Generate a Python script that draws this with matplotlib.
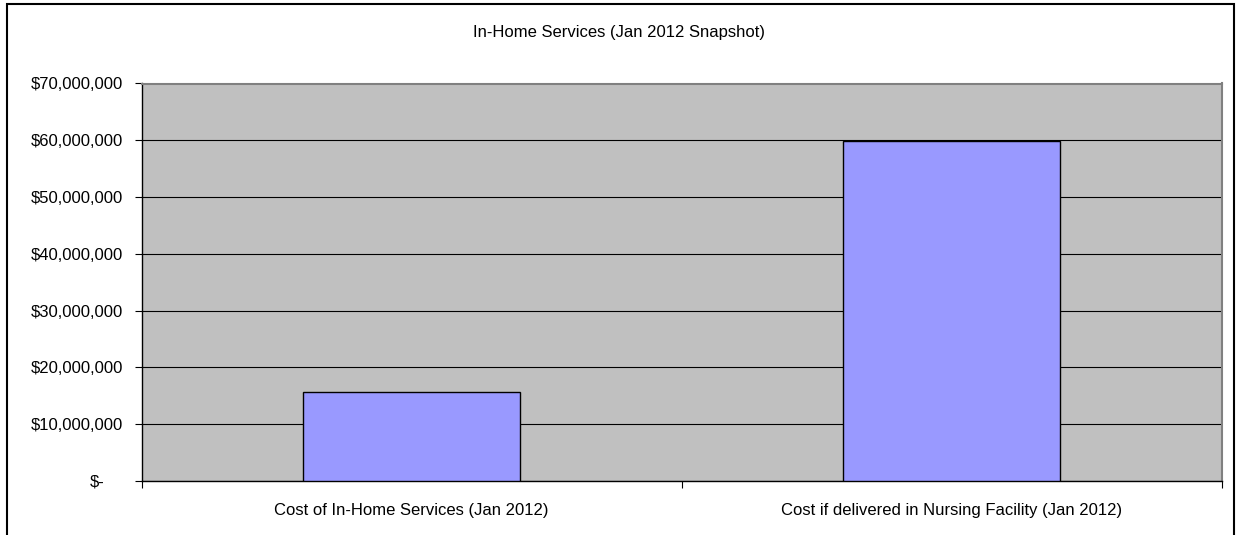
import matplotlib
matplotlib.use("Agg")
import matplotlib.pyplot as plt
from matplotlib.patches import Rectangle
from matplotlib.transforms import ScaledTranslation
from matplotlib.ticker import FuncFormatter, FixedLocator

plt.rcParams['font.family'] = ['Liberation Sans', 'DejaVu Sans']

title = "In-Home Services (Jan 2012 Snapshot)"
categories = ["Cost of In-Home Services (Jan 2012)",
              "Cost if delivered in Nursing Facility (Jan 2012)"]
costs = [15_700_000, 59_800_000]
y_ticks = [0, 10_000_000, 20_000_000, 30_000_000, 40_000_000,
           50_000_000, 60_000_000, 70_000_000]

FS = 12

fig = plt.figure(figsize=(12.38, 5.35), dpi=100)
fig.patch.set_facecolor("white")

# outer chart border
fig.add_artist(Rectangle((7 / 1238, -0.01), (1234 - 7) / 1238, 1 - 4 / 535 + 0.01,
                         transform=fig.transFigure, fill=False,
                         edgecolor="black", linewidth=1.5))

ax = fig.add_axes([141.7 / 1238, 1 - 481 / 535,
                   (1221.5 - 141.7) / 1238, (481 - 83.5) / 535])
ax.set_facecolor("#C0C0C0")

x = list(range(len(categories)))
ax.bar(x, costs, width=0.402, color="#9999FF", edgecolor="black",
       linewidth=1.0, zorder=3)

ax.set_xlim(-0.5, len(categories) - 0.5)
ax.set_ylim(0, 70_000_000)

ax.yaxis.set_major_locator(FixedLocator(y_ticks))
ax.yaxis.set_major_formatter(
    FuncFormatter(lambda v, p: "$-" if v == 0 else f"${v:,.0f}"))
ax.grid(axis="y", color="black", linewidth=0.8, zorder=1)
ax.tick_params(axis="y", direction="out", length=5, width=0.8,
               pad=8.5, labelsize=FS, colors="black")

# category labels centred, ticks at the category boundaries
ax.set_xticks(x)
ax.set_xticklabels(categories)
ax.tick_params(axis="x", which="major", length=0, pad=15.5, labelsize=FS)
ax.set_xticks([-0.5, 0.5, 1.5], minor=True)
ax.tick_params(axis="x", which="minor", direction="out", length=5, width=0.8)

for side in ("left", "bottom"):
    ax.spines[side].set_color("black")
    ax.spines[side].set_linewidth(1.0)
for side in ("top", "right"):
    ax.spines[side].set_color("#808080")
    ax.spines[side].set_linewidth(1.5)
ax.set_axisbelow(True)

# accounting-style zero label sits further left
for lbl in ax.get_yticklabels():
    if lbl.get_text() == "$-":
        lbl.set_transform(lbl.get_transform() +
                          ScaledTranslation(-0.18, 0, fig.dpi_scale_trans))

fig.text(0.5, 1 - 33 / 535, title, ha="center", va="center", fontsize=FS)

fig.savefig("out.png", dpi=100)
